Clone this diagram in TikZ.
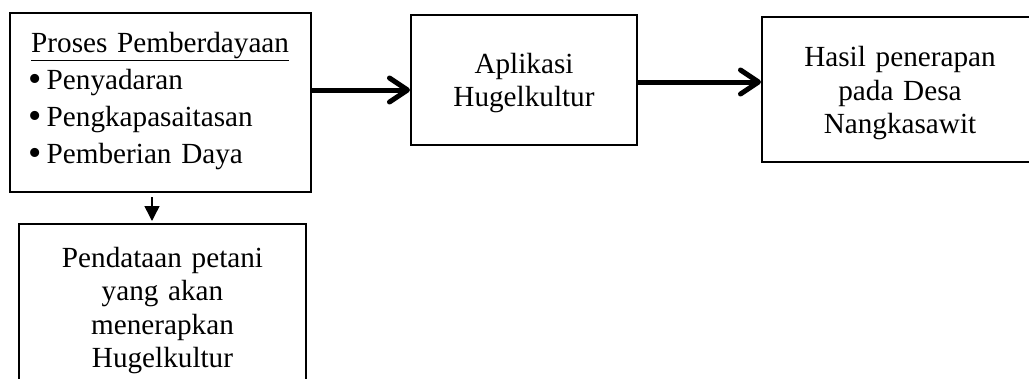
\documentclass[tikz,border=0pt]{standalone}
\usepackage{fontspec}
\setmainfont{Liberation Serif}
\usetikzlibrary{arrows.meta}
\newcommand{\bigbul}{\makebox[15.5pt][l]{\hspace*{-3pt}\raisebox{-2.5pt}{\scalebox{1.3}{\textbullet}}}}
\begin{document}
\begin{tikzpicture}[x=1pt,y=-1pt,
  box/.style={draw, line width=2pt, rectangle, inner sep=0pt},
  txt/.style={font=\fontsize{29.2}{33.5}\selectfont, align=center, inner sep=0pt, anchor=base},
  listtxt/.style={font=\fontsize{29.2}{37}\selectfont, align=left, inner sep=0pt, anchor=base west, text width=285pt},
  bigarrow/.style={line width=5pt, -{Straight Barb[length=18pt,width=24pt,round]}},
  smallarrow/.style={line width=1.5pt, -{Triangle[length=15pt,width=15pt]}}]
\clip (0,0) rectangle (1029,378);
\node[box, minimum width=301pt, minimum height=179pt] (b1) at (160.5,102.5) {};
\node[box, minimum width=226pt, minimum height=130pt] (b2) at (524,80) {};
\node[box, minimum width=276pt, minimum height=145pt] (b3) at (900,89.5) {};
\node[box, minimum width=287pt, minimum height=176pt] (b4) at (162.5,312) {};
\node[listtxt] (t1) at ([xshift=22pt,yshift=-40pt]b1.north west)
  {\underline{Proses Pemberdayaan}\\
   \bigbul Penyadaran\\
   \bigbul Pengkapasaitasan\\
   \bigbul Pemberian Daya};
\node[txt, text width=220pt] (t2) at ([yshift=-59pt]b2.north) {Aplikasi\\Hugelkultur};
\node[txt, text width=270pt] (t3) at ([yshift=-50.5pt]b3.north) {Hasil penerapan\\pada Desa\\Nangkasawit};
\node[txt, text width=280pt] (t4) at ([yshift=-44pt]b4.north) {Pendataan petani\\yang akan\\menerapkan\\Hugelkultur};
\draw[bigarrow] (b1.east |- 0,90) -- (b2.west |- 0,90);
\draw[bigarrow] (b2.east |- 0,82) -- (b3.west |- 0,82);
\draw[smallarrow, shorten <=4pt, shorten >=2pt] (b1.south -| 152,0) -- (b4.north -| 152,0);
\end{tikzpicture}
\end{document}
